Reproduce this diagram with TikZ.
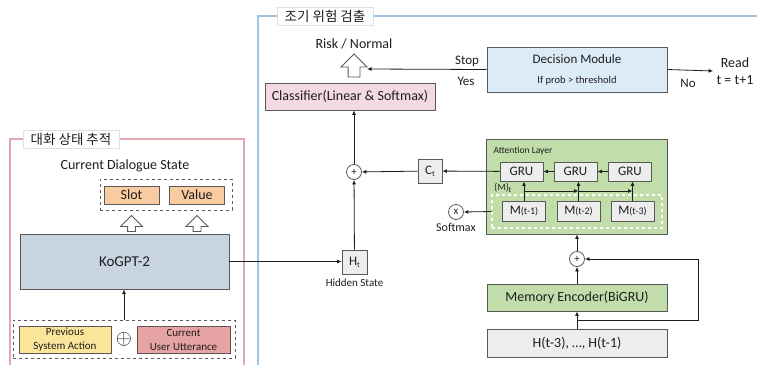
\documentclass[tikz,border=0pt]{standalone}
\usepackage{fontspec}
\setmainfont{Carlito}
\newfontfamily\kofont{Noto Sans CJK KR}
\usetikzlibrary{arrows.meta,positioning,shapes.arrows,calc}
\definecolor{frameline}{HTML}{595959}
\definecolor{panelpink}{HTML}{E6A8AF}
\definecolor{panelblue}{HTML}{9DC3E6}
\definecolor{gptblue}{HTML}{C8D4E1}
\definecolor{slotorange}{HTML}{F8CBA0}
\definecolor{actyellow}{HTML}{FAE69B}
\definecolor{uttpink}{HTML}{E6A3A3}
\definecolor{clfpink}{HTML}{F2DAE0}
\definecolor{decblue}{HTML}{DCEBF8}
\definecolor{attgreen}{HTML}{C0DDAA}
\definecolor{cellgray}{HTML}{EDEDED}
\definecolor{inkdark}{HTML}{1E1E1E}
\newcommand{\lowidx}[1]{\raisebox{-0.35ex}{\fontsize{8}{8}\selectfont#1}}

\begin{document}
\begin{tikzpicture}[
  x=1pt,y=-1pt,
  font=\fontsize{13}{15}\selectfont,
  text=inkdark,
  >={Latex[length=4.5pt,width=4pt]},
  box/.style={draw=frameline,line width=0.8pt,inner sep=0pt,align=center},
  cell/.style={box,fill=cellgray,minimum width=43pt,minimum height=20pt},
  panel/.style={line width=1.3pt},
  title/.style={fill=white,draw=black!12,inner xsep=8pt,inner ysep=3pt,
                font=\kofont\fontsize{13.5}{16}\selectfont},
  dashbox/.style={draw=frameline,dashed,line width=0.7pt,inner sep=0pt},
  op/.style={circle,draw=frameline,line width=0.8pt,fill=white,inner sep=0pt,
             minimum size=15pt,font=\fontsize{11}{11}\selectfont},
  hollow/.style={single arrow,draw=frameline,line width=0.8pt,fill=white,
                 shape border rotate=90,inner sep=0pt},
  wire/.style={draw=inkdark,line width=0.8pt},
  small/.style={font=\fontsize{11}{14}\selectfont}
]
\useasboundingbox[fill=white] (0,0) rectangle (757,364);

% panels
\draw[panel,draw=panelpink] (10,375) -- (10,139) -- (244,139) -- (244,375);
\draw[panel,draw=panelblue] (258,375) -- (258,16) -- (770,16);
\node[title] (dsttitle) at (71,139) {대화 상태 추적};
\node[title] (risktitle) at (325,16) {조기 위험 검출};

% dialogue state tracking
\node (dsthead) at (125,166) {\fontsize{14}{16}\selectfont Current Dialogue State};
\node[dashbox,minimum width=132pt,minimum height=31pt] (dst) at (166,194.5) {};
\node[box,fill=slotorange,minimum width=55pt,minimum height=18pt,
      font=\fontsize{14}{16}\selectfont] (slot) at (131.5,195) {Slot};
\node[box,fill=slotorange,minimum width=55pt,minimum height=18pt,
      font=\fontsize{14}{16}\selectfont] (value) at (197,195) {Value};
\node[box,fill=gptblue,minimum width=209pt,minimum height=55pt,
      font=\fontsize{15}{18}\selectfont] (gpt) at (124.5,261.5) {KoGPT-2};
\node[hollow,minimum height=16pt,minimum width=17pt,inner sep=3.5pt] (up1) at (131.5,225.5) {};
\node[hollow,minimum height=16pt,minimum width=17pt,inner sep=3.5pt] (up2) at (197,225.5) {};

\node[dashbox,minimum width=222pt,minimum height=38pt] (inp) at (124,339) {};
\node[box,fill=actyellow,minimum width=92pt,minimum height=27pt,small] (act) at (65,339.5) {Previous\\System Action};
\node[box,fill=uttpink,minimum width=93pt,minimum height=27pt,small] (utt) at (183.5,339.5) {Current\\User Utterance};
\node[font=\fontsize{20}{20}\selectfont] (cat) at (124,339) {$\oplus$};
\draw[->,wire] (inp.north) -- (inp.north |- gpt.south);

% early risk detection
\node[box,fill=cellgray,minimum width=25pt,minimum height=24pt] (ht) at (354.5,262) {H\lowidx{t}};
\node[below=1pt of ht,font=\fontsize{11}{13}\selectfont] (htlabel) {Hidden State};
\node[op] (sum) at (354,172) {+};
\node[box,fill=cellgray,minimum width=24pt,minimum height=24pt] (ct) at (430,171) {C\lowidx{t}};
\node[box,fill=clfpink,minimum width=170pt,minimum height=27pt,
      font=\fontsize{14}{16}\selectfont] (clf) at (350,96.5) {Classifier(Linear \& Softmax)};
\node[hollow,minimum height=23pt,minimum width=23pt,inner sep=5.5pt] (risk) at (354,68.5) {};
\node[font=\fontsize{14}{16}\selectfont] (risklabel) at (354,44) {Risk / Normal};

\node[box,fill=decblue,minimum width=180pt,minimum height=45pt] (dec) at (577,69.5)
  {{\fontsize{13}{15}\selectfont Decision Module}\\[5pt]{\fontsize{10.5}{12}\selectfont If prob > threshold}};
\coordinate (stopend) at (367,69);
\draw[->,wire] (dec.west) -- (stopend);
\node (stop) at (467,61) {Stop};
\node (yes) at (466,81) {Yes};
\node[align=center,font=\fontsize{14}{17}\selectfont] (read) at (735,71) {Read\\t = t+1};
\draw[->,wire] (dec.east) -- (read.west);
\node (no) at (688,83) {No};

% attention layer
\node[box,fill=attgreen,minimum width=181pt,minimum height=95pt] (att) at (576.5,186.5) {};
\node[anchor=west,font=\fontsize{9.5}{11}\selectfont] (attlabel) at (490,151) {Attention Layer};
\node[cell,minimum height=19pt] (gru1) at (521.5,171.5) {GRU};
\node[cell,minimum height=19pt] (gru2) at (575.5,171.5) {GRU};
\node[cell,minimum height=19pt] (gru3) at (630,171.5) {GRU};
\node[draw=white,dashed,line width=1.3pt,minimum width=170pt,minimum height=33pt] (mem) at (577,211.5) {};
\node[cell] (m1) at (524,211) {M{\fontsize{10}{12}\selectfont(t-1)}};
\node[cell] (m2) at (578.5,211) {M{\fontsize{10}{12}\selectfont(t-2)}};
\node[cell] (m3) at (632.5,211) {M{\fontsize{10}{12}\selectfont(t-3)}};
\node[anchor=west,font=\fontsize{9.5}{11}\selectfont] (mset) at (491,188) {\{M\}\lowidx{t}};

\draw[->,wire] (gru3) -- (gru2);
\draw[->,wire] (gru2) -- (gru1);
\draw[->,wire] (gru1) -- (ct);
\draw[->,wire] (ct) -- (sum);
\draw[->,wire] (ht) -- (sum);
\draw[->,wire] (sum) -- (sum |- clf.south);
\draw[->,wire] (gpt.east) -- (gpt.east -| ht.west);
\draw[->,wire] (m1.north) -- (m1.north |- gru1.south);
\draw[->,wire] (m2.north) -- (m2.north |- gru2.south);
\draw[->,wire] (m3.north) -- (m3.north |- gru3.south);
\coordinate (tap) at ($(m1.north)!0.5!(m1.north |- gru1.south)$);
\draw[->,wire] (tap) -- (tap -| m2.north);
\draw[->,wire] (tap -| m2.north) -- (tap -| m3.north);

\node[op] (soft) at (456,212) {x};
\node[below=0pt of soft,font=\fontsize{12}{14}\selectfont] (softlabel) {Softmax};
\draw[->,wire] (mem.west) -- (soft.east);

% memory encoder
\node[op] (sum2) at (577,259) {+};
\node[box,fill=attgreen,minimum width=180pt,minimum height=27pt,
      font=\fontsize{14}{16}\selectfont] (menc) at (577,297.5) {Memory Encoder(BiGRU)};
\node[box,fill=cellgray,minimum width=180pt,minimum height=28pt,
      font=\fontsize{14}{16}\selectfont] (hist) at (577,343) {H(t-3), …, H(t-1)};
\draw[->,wire] (hist.north) -- (menc.south);
\draw[->,wire] (menc.north) -- (sum2.south);
\draw[->,wire] (sum2.north) -- (sum2.north |- att.south);
\coordinate (split) at ($(hist.north)!0.5!(menc.south)$);
\draw[->,wire] (split) -- ++(121,0) |- (sum2.east);
\end{tikzpicture}
\end{document}
